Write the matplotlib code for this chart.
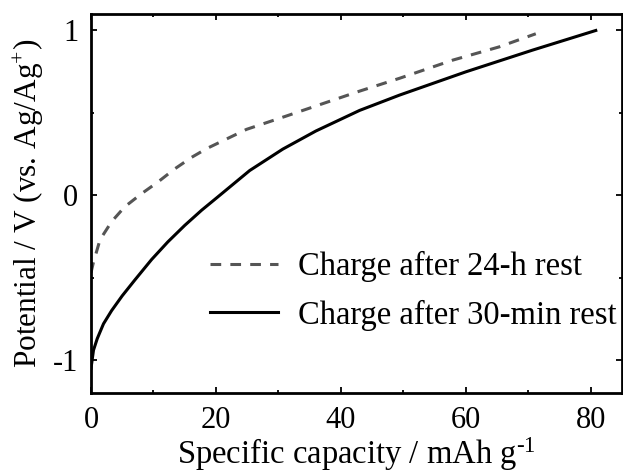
import matplotlib
matplotlib.use("Agg")
import matplotlib.pyplot as plt
from matplotlib.ticker import MultipleLocator

plt.rcParams['font.family'] = ['Liberation Serif', 'DejaVu Serif']
plt.rcParams['mathtext.fontset'] = 'custom'
plt.rcParams['mathtext.rm'] = 'Liberation Serif'
plt.rcParams['mathtext.it'] = 'Liberation Serif:italic'

# Charge after 30-min rest (solid)
x_30min = [0, 0.4, 1.0, 2.0, 3.3, 5.0, 7.0, 9.7, 12.3, 15.0, 17.7, 20.3, 25.4, 30.7, 36, 43, 49.4, 60, 70.7, 80.8]
y_30min = [-1.05, -0.94, -0.87, -0.78, -0.70, -0.61, -0.515, -0.39, -0.283, -0.183, -0.091, -0.01, 0.15, 0.28, 0.39, 0.515, 0.608, 0.749, 0.881, 1.0]

# Charge after 24-h rest (dashed)
x_24h = [0, 0.37, 1.44, 3.3, 5.4, 8.1, 10.7, 13.4, 16.1, 18.5, 24.9, 31.2, 37.1, 43, 49.4, 57.9, 65.3, 71.2]
y_24h = [-0.47, -0.41, -0.27, -0.16, -0.07, 0.01, 0.08, 0.16, 0.23, 0.283, 0.40, 0.48, 0.556, 0.632, 0.71, 0.82, 0.90, 0.98]

labels = ["Charge after 24-h rest", "Charge after 30-min rest"]
x_ticks = [0, 20, 40, 60, 80]
y_ticks = [-1, 0, 1]

fig = plt.figure(figsize=(6.23, 4.75), dpi=100)
ax = fig.add_axes([91/623, 1-393/475, 531/623, 379/475])

ax.plot(x_24h, y_24h, color='#555555', lw=2.2, dashes=(3.5, 3.0), label=labels[0],
        dash_capstyle='butt', dash_joinstyle='round')
ax.plot(x_30min, y_30min, color='black', lw=2.2, label=labels[1], solid_joinstyle='round')

ax.set_xlim(0, 85)
ax.set_ylim(-1.2, 1.1)
ax.set_xticks(x_ticks)
ax.set_yticks(y_ticks)
ax.set_yticklabels(['-1', '0', '1'])
ax.xaxis.set_minor_locator(MultipleLocator(10))
ax.yaxis.set_minor_locator(MultipleLocator(0.5))
ax.tick_params(which='both', direction='in', top=True, right=True, labelsize=22, width=1.3)
ax.tick_params(which='major', length=4.5, pad=9)
ax.tick_params(which='minor', length=2.5)
for s in ax.spines.values():
    s.set_linewidth(2.0)

ax.set_xlabel('Specific capacity / mAh g$^{\\text{-1}}$', fontsize=23.5, labelpad=1)
ax.set_ylabel('Potential / V (vs. Ag/Ag$^{+}$)', fontsize=22.5, labelpad=5)

leg = ax.legend(loc='upper left', bbox_to_anchor=(0.224, 0.374), frameon=False, fontsize=23.5,
                handlelength=2.08, handletextpad=0.61, borderpad=0, borderaxespad=0,
                labelspacing=0.53)

fig.savefig('out.png', dpi=100)
